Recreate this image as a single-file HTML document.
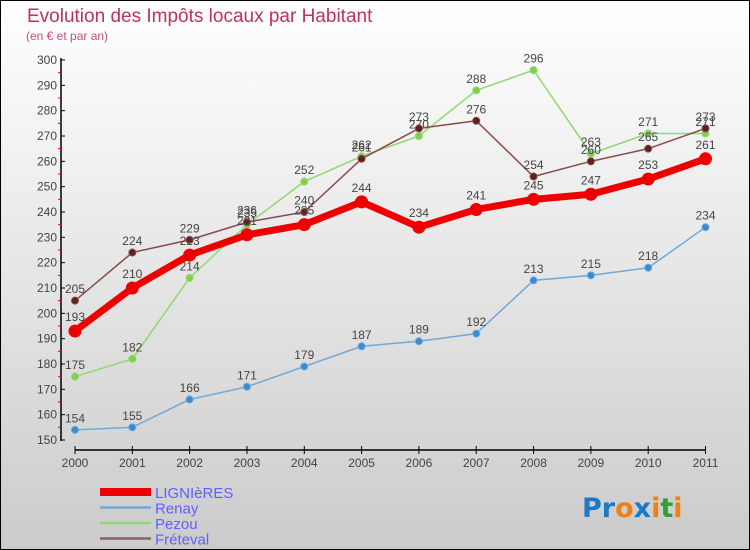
<!DOCTYPE html>
<html><head><meta charset="utf-8"><style>
html,body{margin:0;padding:0}
body{width:750px;height:550px;overflow:hidden;font-family:"Liberation Sans",sans-serif}
#wrap{position:absolute;left:0;top:0;width:748px;height:548px;border:1px solid #000;background:linear-gradient(#fff,#f0f0f0 30%,#cbcbcb)}
</style></head><body>
<div id="wrap">
<svg id="chart" width="750" height="550" style="position:absolute;left:-1px;top:-1px">
<text x="27" y="22" font-size="19" fill="#c03060">Evolution des Impôts locaux par Habitant</text>
<text x="26" y="40" font-size="12" fill="#c05080">(en € et par an)</text>
<g id="axes"></g><g id="series"></g><g id="legend"></g>
<text x="582" y="517" font-size="27" font-weight="bold" font-family="'DejaVu Sans',sans-serif"><tspan fill="#1a7ac8">Pr</tspan><tspan fill="#f08010">o</tspan><tspan fill="#1a7ac8">x</tspan><tspan fill="#f08010">i</tspan><tspan fill="#30a030">t</tspan><tspan fill="#f08010">i</tspan></text>
</svg></div>
<script>
const years=["2000","2001","2002","2003","2004","2005","2006","2007","2008","2009","2010","2011"];
const yTicks=[150,160,170,180,190,200,210,220,230,240,250,260,270,280,290,300];
const lignieres=[193,210,223,231,235,244,234,241,245,247,253,261];
const renay=[154,155,166,171,179,187,189,192,213,215,218,234];
const pezou=[175,182,214,235,252,262,270,288,296,263,271,271];
const freteval=[205,224,229,236,240,261,273,276,254,260,265,273];
const NS="http://www.w3.org/2000/svg";
function X(i){return 75+i*(705.5-75)/11;}
function Y(v){return 440-(v-150)*380/150;}
function mk(t,a,p){const e=document.createElementNS(NS,t);for(const k in a)e.setAttribute(k,a[k]);p.appendChild(e);return e;}
const axes=document.getElementById('axes');
let e=mk('line',{x1:61,y1:58,x2:61,y2:441,stroke:'#000','stroke-width':1.5},axes);


yTicks.forEach((v,i)=>{
 mk('line',{x1:61,y1:Y(v),x2:65,y2:Y(v),stroke:'#000'},axes);
 if(i<yTicks.length-1)mk('line',{x1:58,y1:Y(v+5),x2:61,y2:Y(v+5),stroke:'#e00'},axes);
 const t=mk('text',{x:57,y:Y(v)+4,'text-anchor':'end','font-size':12,fill:'#444'},axes);t.textContent=v;
 
 
});
e=mk('line',{x1:75,y1:450,x2:706,y2:450,stroke:'#000','stroke-width':1.5},axes);


years.forEach((y,i)=>{
 mk('line',{x1:X(i),y1:446,x2:X(i),y2:454,stroke:'#000'},axes);
 const t=mk('text',{x:X(i),y:467,'text-anchor':'middle','font-size':12,fill:'#444'},axes);t.textContent=y;
 
 
});
const sg=document.getElementById('series');
function draw(vals,name,color,w,r,dot){
 const g=mk('g',{},sg);
 
 
 mk('polyline',{points:vals.map((v,i)=>X(i)+','+Y(v)).join(' '),fill:'none',stroke:color,'stroke-width':w,'stroke-linejoin':'round'},g);
 vals.forEach((v,i)=>{
  const c=mk('circle',{cx:X(i),cy:Y(v),r:r,fill:dot,stroke:color,'stroke-width':1},g);
  
  
  const t=mk('text',{x:X(i),y:Y(v)-r-4,'text-anchor':'middle','font-size':12,fill:'#444'},g);t.textContent=v;
  
  
 });
}
draw(renay,'renay','#70a8d8',1.5,3.5,'#3a8ad0');
draw(pezou,'pezou','#90d870',1.5,3.5,'#80d050');
draw(freteval,'freteval','#8a4a4a',1.5,3.5,'#602020');
draw(lignieres,'lignieres','#ee0000',7,6,'#ee0000');
const lg=document.getElementById('legend');
[['LIGNIèRES','#ee0000',8],['Renay','#70a8d8',2.5],['Pezou','#90d870',2.5],['Fréteval','#8a6060',2.5]].forEach((d,i)=>{
 const y=492+i*15.5;
 const l=mk('line',{x1:100,y1:y,x2:151,y2:y,stroke:d[1],'stroke-width':d[2]},lg);
 
 
 const t=mk('text',{x:155,y:y+6,'font-size':15,fill:'#6060ff'},lg);t.textContent=d[0];
 
 
});
</script>
</body></html>
